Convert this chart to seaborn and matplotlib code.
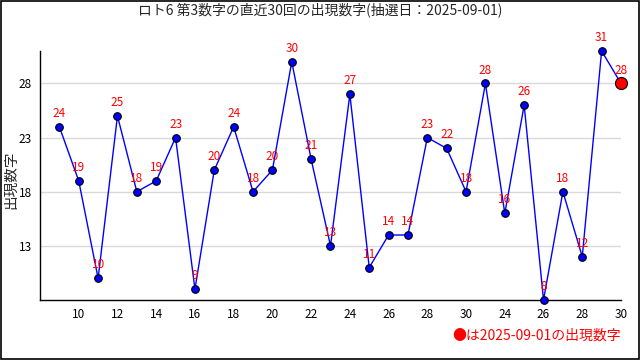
import matplotlib
matplotlib.use("Agg")
import matplotlib.pyplot as plt
import pandas as pd
import seaborn as sns
from matplotlib.patches import Rectangle

# data
draw_pos = list(range(1, 31))
numbers = [24, 19, 10, 25, 18, 19, 23, 9, 20, 24, 18, 20, 30, 21, 13,
           27, 11, 14, 14, 23, 22, 18, 28, 16, 26, 8, 18, 12, 31, 28]
tick_pos = list(range(2, 31, 2))
tick_labels = ["10", "12", "14", "16", "18", "20", "22", "24", "26", "28",
               "30", "24", "26", "28", "30"]
y_ticks = [13, 18, 23, 28]
title = "ロト6 第3数字の直近30回の出現数字(抽選日：2025-09-01)"
note = "●は2025-09-01の出現数字"

sns.set_theme(style="white")
plt.rcParams["font.family"] = ["Noto Sans CJK JP", "DejaVu Sans"]

df = pd.DataFrame({"pos": draw_pos, "num": numbers})

fig = plt.figure(figsize=(6.4, 3.6), dpi=100)
ax = fig.add_axes([0.0625, 0.1667, 0.9078, 0.6917])

sns.lineplot(data=df, x="pos", y="num", ax=ax, color="#0000ff", lw=1, zorder=2)
sns.scatterplot(data=df.iloc[:-1], x="pos", y="num", ax=ax, color="#0000ff",
                edgecolor="black", linewidth=0.8, s=30, zorder=3, clip_on=False)
sns.scatterplot(data=df.iloc[-1:], x="pos", y="num", ax=ax, color="#ff0000",
                edgecolor="black", linewidth=0.8, s=75, zorder=4, clip_on=False)

for x, y in zip(draw_pos, numbers):
    ax.annotate(str(y), (x, y), xytext=(0, 5), textcoords="offset points",
                ha="center", va="bottom", color="#ff0000", fontsize=8.5,
                zorder=5, annotation_clip=False)

ax.set_xlim(0, 30)
ax.set_ylim(8, 31)
ax.set_xticks(tick_pos)
ax.set_xticklabels(tick_labels)
ax.set_xticks(range(0, 31), minor=True)
ax.set_yticks(y_ticks)
ax.set_yticks(range(8, 32), minor=True)
ax.tick_params(axis="both", which="both", direction="in", length=4, width=1,
               colors="black", labelsize=8.5)
ax.tick_params(axis="x", which="both", pad=6)
ax.tick_params(axis="y", which="both", pad=6)
ax.yaxis.grid(True, color="#d9d9d9", lw=1)
ax.set_axisbelow(True)
for side in ["top", "right"]:
    ax.spines[side].set_visible(False)
for side in ["left", "bottom"]:
    ax.spines[side].set_color("black")
    ax.spines[side].set_linewidth(1)

ax.set_xlabel("")
ax.set_ylabel("")
fig.text(11 / 640, 0.5, "出現数字", rotation=90, ha="center", va="center",
         fontsize=10.5)
fig.text(0.5, 0.972, title, ha="center", va="center", fontsize=10)
fig.text(0.97, 0.068, note, ha="right", va="center", color="#ff0000", fontsize=10)

fig.patches.append(Rectangle((0.001, 0.002), 0.997, 0.995, transform=fig.transFigure,
                             fill=False, edgecolor="black", lw=1.2))

fig.savefig("out.png", dpi=100)
plt.close(fig)
